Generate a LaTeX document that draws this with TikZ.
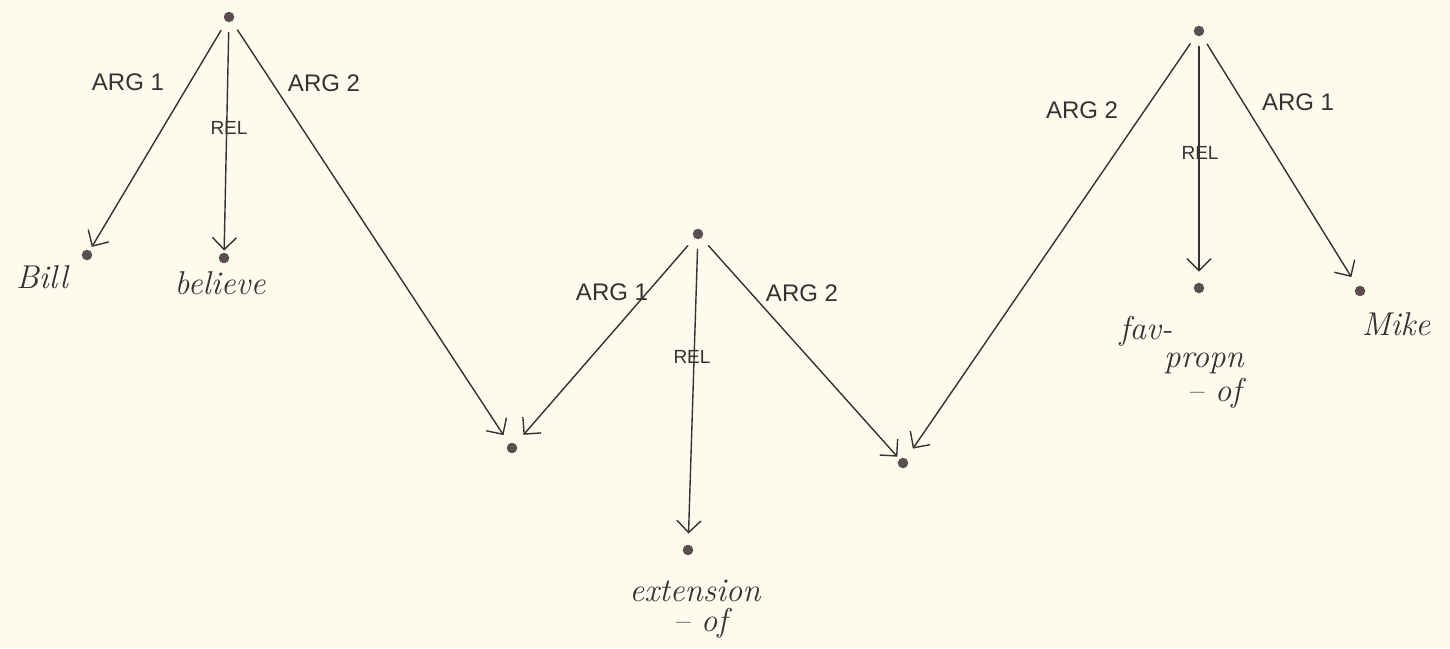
\documentclass[tikz,border=0pt]{standalone}
\usepackage{fontspec}
\newfontfamily\labelfont{Liberation Sans}
\usetikzlibrary{arrows.meta}
\definecolor{paper}{RGB}{252,251,237}
\definecolor{ink}{RGB}{55,50,50}
\definecolor{dotink}{RGB}{90,78,78}
\begin{document}
\begin{tikzpicture}[x=1pt,y=-1pt,
  pt/.style={circle,fill=dotink,inner sep=0pt,minimum size=10.5pt},
  link/.style={draw=ink,line width=1.4pt,line cap=round,
    -{Straight Barb[length=12pt,width=24pt,line width=1.4pt]},
    shorten <=10pt,shorten >=#1},
  link/.default=8pt,
  lab/.style={font=\labelfont\fontsize{24}{24}\selectfont,text=ink,inner sep=1pt},
  rellab/.style={font=\labelfont\fontsize{19}{19}\selectfont,text=ink,inner sep=1pt},
  word/.style={font=\itshape\fontsize{33}{33}\selectfont,text=ink,inner sep=0pt,
    text depth=0pt,anchor=base}]
\useasboundingbox (0,0) rectangle (1450,648);
\fill[paper] (0,0) rectangle (1450,648);

% structure points
\node[pt] (t1) at (229,17) {};
\node[pt] (bill) at (87,255) {};
\node[pt] (believe) at (224,258) {};
\node[pt] (m1) at (512,448) {};
\node[pt] (t2) at (698,234) {};
\node[pt] (ext) at (688,550) {};
\node[pt] (m2) at (903,463) {};
\node[pt] (t3) at (1199,31) {};
\node[pt] (fav) at (1199,288) {};
\node[pt] (mike) at (1360,291) {};

% connectors
\draw[link=4pt] (t1) -- (bill);
\draw[link=2pt] (t1) -- (believe);
\draw[link=10pt] (t1) -- (m1);
\draw[link=12pt] (t2) -- (m1);
\draw[link=11pt] (t2) -- (ext);
\draw[link=3pt] (t2) -- (m2);
\draw[link=12pt] (t3) -- (m2);
\draw[link=11pt] (t3) -- (fav);
\draw[link=11pt] (t3) -- (mike);

% connector labels
\node[lab] (l11) at (128,82) {ARG 1};
\node[rellab] (l12) at (229,128) {REL};
\node[lab] (l13) at (324,83) {ARG 2};
\node[lab] (l21) at (612,292) {ARG 1};
\node[rellab] (l22) at (692,357) {REL};
\node[lab] (l23) at (802,293) {ARG 2};
\node[lab] (l31) at (1082,110) {ARG 2};
\node[rellab] (l32) at (1200,153) {REL};
\node[lab] (l33) at (1298,102) {ARG 1};

% words
\node[word] (wbill) at (42,288) {Bill};
\node[word] (wbelieve) at (220,294) {believe};
\node[word] (wext1) at (695,601) {extension};
\node[word] (wext2) at (700,631) {-- of};
\node[word] (wfav1) at (1146,339) {fav-};
\node[word] (wfav2) at (1204,367) {propn};
\node[word] (wfav3) at (1214,401) {-- of};
\node[word] (wmike) at (1396,335) {Mike};
\end{tikzpicture}
\end{document}
